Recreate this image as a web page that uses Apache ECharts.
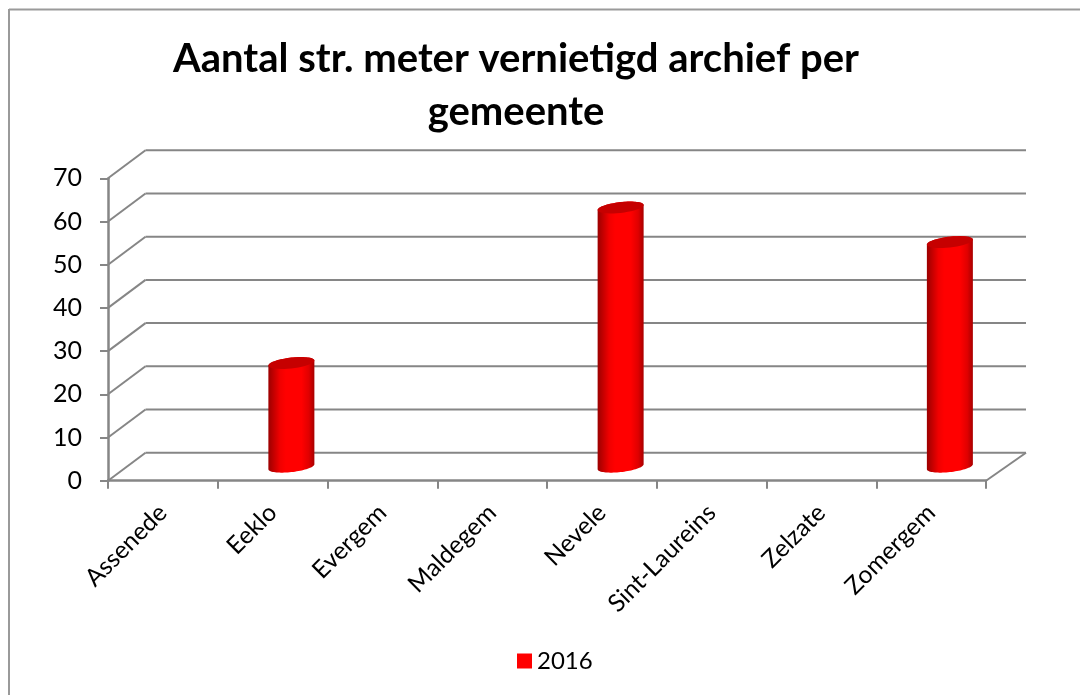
<!DOCTYPE html>
<html>
<head>
<meta charset="utf-8">
<style>html,body{margin:0;padding:0;background:#fff}#c{width:1080px;height:695px}</style>
<script src="https://cdn.jsdelivr.net/npm/echarts@6/dist/echarts.min.js"></script>
</head>
<body>
<div id="c"></div>
<script>
const categories = ["Assenede","Eeklo","Evergem","Maldegem","Nevele","Sint-Laureins","Zelzate","Zomergem"];
const values2016 = [null,24,null,null,60,null,null,52];
const yTicks = [0,10,20,30,40,50,60,70];

const GREY = "#868686", FONT = "Lato";
// fake 3d depth of the floor, in px (right side runs a bit wider in the original)
const DX = 37.5, DX_R = 40, DY = 28;

const chart = echarts.init(document.getElementById("c"));

function ellipsePts(cx, cy, from, to) {
  const a = 23, b = 5.4, k = -2.5, pts = [];
  for (let i = 0; i <= 40; i++) {
    const t = from + (to - from) * i / 40;
    pts.push([cx + a * Math.cos(t), cy + b * Math.sin(t) + k * Math.cos(t)]);
  }
  return pts;
}

const bodyFill = new echarts.graphic.LinearGradient(0, 0, 1, 0, [
  { offset: 0, color: "#9c0000" }, { offset: 0.25, color: "#f00000" }, { offset: 0.38, color: "#ff0000" },
  { offset: 0.72, color: "#ff0000" }, { offset: 0.88, color: "#e00000" }, { offset: 1, color: "#a80000" }
]);

function renderWall(params, api) {
  const g = params.coordSys, y = api.coord([0, api.value(0)])[1];
  const line = (x1, y1, x2, y2) => ({ type: "line", shape: { x1, y1, x2, y2 }, style: { stroke: GREY, lineWidth: 2 } });
  const kids = [
    line(g.x, y, g.x + DX, y - DY),
    line(g.x + DX, y - DY, g.x + g.width + DX_R, y - DY)
  ];
  if (api.value(0) === 0) kids.push(line(g.x + g.width, y, g.x + g.width + DX_R, y - DY));
  return { type: "group", children: kids };
}

function renderCylinder(params, api) {
  const v = api.value(1);
  if (v == null || isNaN(v)) return null;
  const base = api.coord([api.value(0), 0]), top = api.coord([api.value(0), v]);
  const cx = base[0] + DX / 2, yb = base[1] - DY / 2, yt = top[1] - DY / 2;
  const body = ellipsePts(cx, yt, Math.PI, 2 * Math.PI).concat(ellipsePts(cx, yb, 0, Math.PI));
  return { type: "group", children: [
    { type: "polygon", shape: { points: body }, style: { fill: bodyFill } },
    { type: "polygon", shape: { points: ellipsePts(cx, yt, 0, 2 * Math.PI) }, style: { fill: "#c60000" } }
  ]};
}

chart.setOption({
  animation: false,
  backgroundColor: "#fff",
  title: { text: "Aantal str. meter vernietigd archief per\ngemeente", left: 511, top: 28, textAlign: "center",
    textStyle: { fontFamily: FONT, fontSize: 40, fontWeight: "bold", color: "#000", lineHeight: 53 } },
  legend: { data: ["2016"], left: 512, top: 644, icon: "rect", itemWidth: 15, itemHeight: 15, itemGap: 6,
    textStyle: { fontFamily: FONT, fontSize: 24, color: "#000" } },
  grid: { left: 108, right: 94, top: 178.3, bottom: 214.3, outerBoundsMode: "none" },
  xAxis: { type: "category", data: categories,
    axisLine: { lineStyle: { color: GREY, width: 2.5 } },
    axisTick: { show: true, length: 8, lineStyle: { color: GREY, width: 2 } },
    axisLabel: { rotate: 45, interval: 0, margin: 28, color: "#000", fontFamily: FONT, fontSize: 24.5 } },
  yAxis: { type: "value", min: 0, max: 70, interval: 10,
    axisLine: { show: true, lineStyle: { color: GREY, width: 2.5 } },
    axisTick: { show: true, length: 8, lineStyle: { color: GREY, width: 2 } },
    axisLabel: { margin: 26, padding: [7, 0, 0, 0], color: "#000", fontFamily: FONT, fontSize: 25 },
    splitLine: { show: false } },
  series: [
    { type: "custom", silent: true, z: 1, renderItem: renderWall, data: yTicks.map(v => [v]), encode: { y: 0 } },
    { type: "custom", name: "2016", z: 3, renderItem: renderCylinder, itemStyle: { color: "#ff0000" },
      data: values2016.map((v, i) => [i, v]), encode: { x: 0, y: 1 } }
  ],
  graphic: [
    { type: "line", shape: { x1: 9, y1: 9.5, x2: 1080, y2: 9.5 }, style: { stroke: "#9a9a9a", lineWidth: 2 } },
    { type: "line", shape: { x1: 9, y1: 9, x2: 9, y2: 695 }, style: { stroke: "#9a9a9a", lineWidth: 2 } }
  ]
});
window.addEventListener("resize", () => chart.resize());
</script>
</body>
</html>
